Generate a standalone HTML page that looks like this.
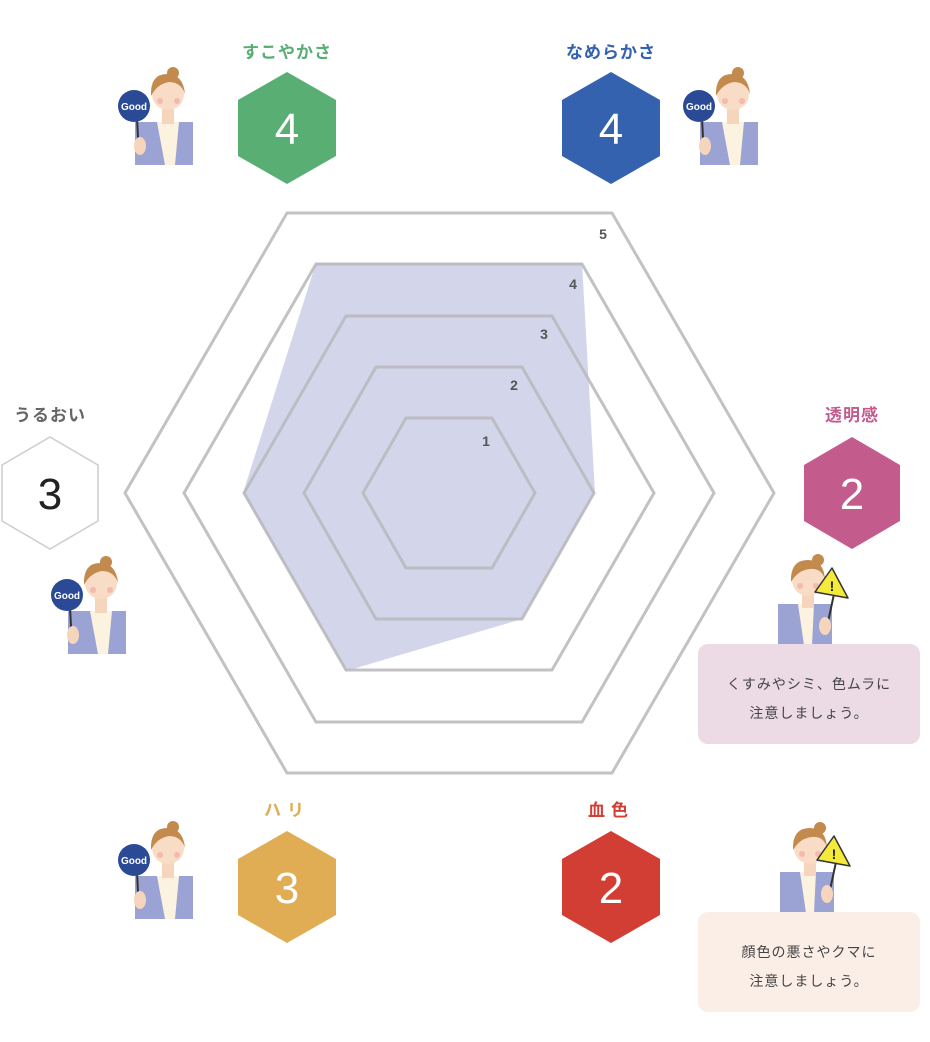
<!DOCTYPE html>
<html><head><meta charset="utf-8"><style>
html,body{margin:0;padding:0;background:#fff;}
svg{display:block;}
text{font-family:"Liberation Sans","Noto Sans CJK JP",sans-serif;}
</style></head><body>
<svg width="930" height="1042" viewBox="0 0 930 1042" xmlns="http://www.w3.org/2000/svg">
<defs>
<g id="good">
  <rect x="18" y="56" width="58" height="43" fill="#9aa3d4"/>
  <path d="M40 56 L48 99 L58 99 L62 56 Z" fill="#fbf3df"/>
  <rect x="45" y="40" width="12" height="18" fill="#f6d5bd"/>
  <circle cx="51" cy="28" r="16" fill="#f8dcc6"/>
  <path d="M34 30 Q33 8 50 8 Q66 8 68 28 Q64 16 52 16 Q40 18 34 30 Z" fill="#c28a4c"/>
  <circle cx="56" cy="7" r="6" fill="#c28a4c"/>
  <circle cx="43" cy="35" r="3" fill="#f5b9b0"/>
  <circle cx="60" cy="35" r="3" fill="#f5b9b0"/>
  <line x1="20" y1="52" x2="21" y2="72" stroke="#333" stroke-width="2"/>
  <circle cx="17" cy="40" r="16" fill="#2b4a96"/>
  <text x="17" y="44" font-size="10" font-weight="bold" fill="#fff" text-anchor="middle">Good</text>
  <ellipse cx="23" cy="80" rx="6" ry="9" fill="#f6d5bd"/>
</g>
<g id="warn">
  <rect x="0" y="52" width="54" height="41" fill="#9aa3d4"/>
  <path d="M20 52 L26 93 L34 93 L36 52 Z" fill="#fbf3df"/>
  <rect x="24" y="38" width="12" height="18" fill="#f6d5bd"/>
  <circle cx="30" cy="28" r="16" fill="#f8dcc6"/>
  <path d="M13 30 Q12 8 30 8 Q46 8 47 28 Q44 16 32 17 Q20 18 13 30 Z" fill="#c28a4c"/>
  <circle cx="40" cy="8" r="6" fill="#c28a4c"/>
  <circle cx="22" cy="34" r="3" fill="#f5b9b0"/>
  <circle cx="38" cy="34" r="3" fill="#f5b9b0"/>
  <line x1="56" y1="42" x2="50" y2="70" stroke="#333" stroke-width="2"/>
  <path d="M54 16 L70 46 L37 40 Z" fill="#f5ea3a" stroke="#333" stroke-width="1.5" stroke-linejoin="round"/>
  <text x="54" y="39" font-size="14" font-weight="bold" fill="#222" text-anchor="middle">!</text>
  <ellipse cx="47" cy="74" rx="6" ry="9" fill="#f6d5bd"/>
</g>
</defs>

<!-- data polygon -->
<polygon points="316,263 582,263 595,493 522,619 346,671 243,493" fill="#d3d6ea"/>
<!-- grid hexagons -->
<g fill="none" stroke="#b8b8bc" stroke-width="3" opacity="0.85">
<polygon points="363,493 406,418 492,418 535,493 492,568 406,568"/>
<polygon points="304,493 376,367 522,367 594,493 522,619 376,619"/>
<polygon points="244,493 346,316 552,316 654,493 552,670 346,670"/>
<polygon points="184,493 316,264 582,264 714,493 582,722 316,722"/>
<polygon points="125,493 287,213 612,213 774,493 612,773 287,773"/>
</g>
<g font-size="14" font-weight="bold" fill="#555" text-anchor="middle">
<text x="603" y="239">5</text>
<text x="573" y="289">4</text>
<text x="544" y="339">3</text>
<text x="514" y="390">2</text>
<text x="486" y="446">1</text>
</g>

<!-- badges -->
<polygon points="287,72 336,100 336,156 287,184 238,156 238,100" fill="#58ae73"/>
<text x="287" y="144" font-size="44" fill="#fff" text-anchor="middle">4</text>
<polygon points="611,72 660,100 660,156 611,184 562,156 562,100" fill="#3462ae"/>
<text x="611" y="144" font-size="44" fill="#fff" text-anchor="middle">4</text>
<polygon points="50,437 98,465 98,521 50,549 2,521 2,465" fill="#fff" stroke="#ccc" stroke-width="1.5"/>
<text x="50" y="509" font-size="44" fill="#222" text-anchor="middle">3</text>
<polygon points="852,437 900,465 900,521 852,549 804,521 804,465" fill="#c35b8d"/>
<text x="852" y="509" font-size="44" fill="#fff" text-anchor="middle">2</text>
<polygon points="287,831 336,859 336,915 287,943 238,915 238,859" fill="#e0ad55"/>
<text x="287" y="903" font-size="44" fill="#fff" text-anchor="middle">3</text>
<polygon points="611,831 660,859 660,915 611,943 562,915 562,859" fill="#d23e33"/>
<text x="611" y="903" font-size="44" fill="#fff" text-anchor="middle">2</text>

<g font-size="17" font-weight="bold" text-anchor="middle" letter-spacing="1">
<text x="287" y="58" fill="#58ae73">すこやかさ</text>
<text x="611" y="58" fill="#3462ae">なめらかさ</text>
<text x="50" y="421" fill="#666">うるおい</text>
<text x="852" y="421" fill="#c35b8d">透明感</text>
<text x="287" y="816" fill="#e0ad55" letter-spacing="6">ハリ</text>
<text x="611" y="816" fill="#d23e33" letter-spacing="6">血色</text>
</g>

<use href="#good" x="117" y="66"/>
<use href="#good" x="682" y="66"/>
<use href="#good" x="50" y="555"/>
<use href="#good" x="117" y="820"/>
<use href="#warn" x="778" y="552"/>
<use href="#warn" x="780" y="820"/>

<rect x="698" y="644" width="222" height="100" rx="10" fill="#ecdae4"/>
<text x="809" y="689" font-size="14" fill="#444" text-anchor="middle" letter-spacing="1">くすみやシミ、色ムラに</text>
<text x="809" y="718" font-size="14" fill="#444" text-anchor="middle" letter-spacing="1">注意しましょう。</text>
<rect x="698" y="912" width="222" height="100" rx="10" fill="#fbeee7"/>
<text x="809" y="957" font-size="14" fill="#444" text-anchor="middle" letter-spacing="1">顔色の悪さやクマに</text>
<text x="809" y="986" font-size="14" fill="#444" text-anchor="middle" letter-spacing="1">注意しましょう。</text>
</svg>
</body></html>
